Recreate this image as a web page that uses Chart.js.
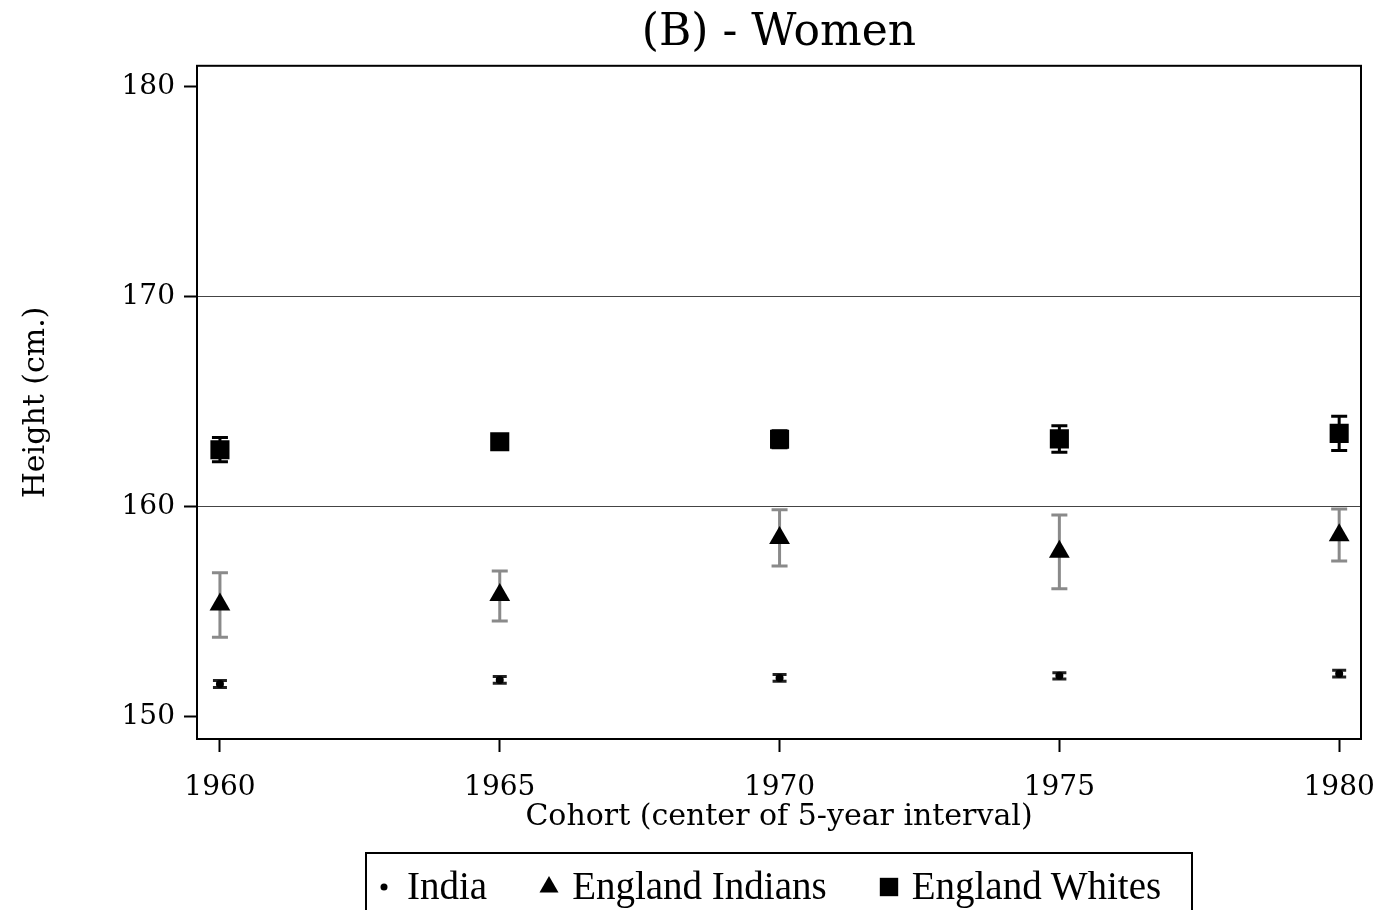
<!DOCTYPE html>
<html>
<head>
<meta charset="utf-8">
<script src="https://cdn.jsdelivr.net/npm/chart.js@4.4.1/dist/chart.umd.min.js"></script>
<style>
html, body { margin: 0; padding: 0; background: #fff; overflow: hidden; }
#wrap { position: relative; width: 1383px; height: 910px; }
#legend {
    position: absolute; left: 365px; top: 852px; width: 828px; height: 90px;
    border: 2px solid #000; box-sizing: border-box;
    font-family: "Liberation Serif", serif; font-size: 39px; color: #000;
    display: flex; align-items: flex-start; padding: 12px 0 0 4px; gap: 49px;
}
.item { display: flex; align-items: center; line-height: 40px; }
.item canvas { margin-right: 10px; }
</style>
</head>
<body>
<div id="wrap">
    <canvas id="chartHeight" width="1383" height="910"></canvas>
    <div id="legend"></div>
</div>
<script>
// cohort centers and tick labels
const cohorts = [1960, 1965, 1970, 1975, 1980];
const xTicks = [1960, 1965, 1970, 1975, 1980];
const yTicks = [150, 160, 170, 180];
const gridValues = [160, 170];

// India
const indiaMean = [151.57, 151.76, 151.86, 151.96, 152.06];
const indiaLow = [151.40, 151.60, 151.70, 151.81, 151.90];
const indiaHigh = [151.74, 151.92, 152.02, 152.11, 152.22];

// England Indians
const engIndMean = [155.35, 155.80, 158.52, 157.86, 158.65];
const engIndLow = [153.80, 154.57, 157.19, 156.10, 157.43];
const engIndHigh = [156.86, 156.95, 159.86, 159.62, 159.90];

// England Whites
const engWhMean = [162.72, 163.10, 163.22, 163.24, 163.50];
const engWhLow = [162.15, 162.80, 162.82, 162.60, 162.68];
const engWhHigh = [163.30, 163.40, 163.62, 163.86, 164.32];

const toPoints = (ys) => cohorts.map((c, i) => ({ x: c, y: ys[i] }));

const serif = "'DejaVu Serif', serif";

// error bars drawn under the markers
const errorBars = {
    id: "errorBars",
    beforeDatasetsDraw(chart) {
        const { ctx, scales: { x, y } } = chart;
        chart.data.datasets.forEach((ds, i) => {
            if (!chart.isDatasetVisible(i)) return;
            ctx.save();
            ctx.strokeStyle = ds.errColor;
            ctx.lineWidth = ds.errWidth;
            ds.data.forEach((pt, j) => {
                const px = x.getPixelForValue(pt.x);
                const top = y.getPixelForValue(ds.errHigh[j]);
                const bot = y.getPixelForValue(ds.errLow[j]);
                const c = ds.capHalf;
                ctx.beginPath();
                ctx.moveTo(px, top);
                ctx.lineTo(px, bot);
                ctx.moveTo(px - c, top);
                ctx.lineTo(px + c, top);
                ctx.moveTo(px - c, bot);
                ctx.lineTo(px + c, bot);
                ctx.stroke();
            });
            ctx.restore();
        });
    },
};

// full box round the plot
const plotBox = {
    id: "plotBox",
    afterDraw(chart) {
        const { ctx, chartArea: a } = chart;
        ctx.save();
        ctx.strokeStyle = "#000";
        ctx.lineWidth = 2;
        ctx.strokeRect(a.left, a.top, a.right - a.left, a.bottom - a.top);
        ctx.restore();
    },
};

const dataHeight = {
    datasets: [
        {
            label: "India",
            data: toPoints(indiaMean),
            errLow: indiaLow,
            errHigh: indiaHigh,
            errColor: "#222",
            errWidth: 3,
            capHalf: 7,
            pointStyle: "circle",
            pointRadius: 4,
            backgroundColor: "#000",
            borderColor: "#000",
            borderWidth: 0,
            legendRadius: 3.5,
        },
        {
            label: "England Indians",
            data: toPoints(engIndMean),
            errLow: engIndLow,
            errHigh: engIndHigh,
            errColor: "#8a8a8a",
            errWidth: 3,
            capHalf: 8,
            pointStyle: "triangle",
            pointRadius: 12,
            backgroundColor: "#000",
            borderColor: "#000",
            borderWidth: 0,
            legendRadius: 11,
        },
        {
            label: "England Whites",
            data: toPoints(engWhMean),
            errLow: engWhLow,
            errHigh: engWhHigh,
            errColor: "#000",
            errWidth: 3,
            capHalf: 8,
            pointStyle: "rect",
            pointRadius: 13.5,
            backgroundColor: "#000",
            borderColor: "#000",
            borderWidth: 0,
            legendRadius: 13,
        },
    ],
};

const configHeight = {
    type: "scatter",
    data: dataHeight,
    options: {
        responsive: false,
        animation: false,
        layout: { padding: { top: 1, left: 18, right: 22, bottom: 75 } },
        plugins: {
            legend: { display: false },
            tooltip: { enabled: false },
            title: {
                display: true,
                text: "(B) - Women",
                fullSize: false,
                color: "#000",
                font: { family: serif, size: 44, weight: "normal" },
                padding: { top: 6, bottom: 6 },
            },
        },
        scales: {
            x: {
                type: "linear",
                min: 1959.59,
                max: 1980.39,
                afterBuildTicks: (s) => { s.ticks = xTicks.map((v) => ({ value: v })); },
                afterFit: (s) => { s.height = 96; s.paddingLeft = 0; s.paddingRight = 0; },
                border: { display: false },
                grid: {
                    color: "transparent",
                    tickColor: "#000",
                    tickLength: 13,
                    tickWidth: 2,
                },
                ticks: {
                    color: "#000",
                    padding: 19,
                    maxRotation: 0,
                    font: { family: serif, size: 28 },
                    callback: (v) => String(v),
                },
                title: {
                    display: true,
                    text: "Cohort (center of 5-year interval)",
                    color: "#000",
                    font: { family: serif, size: 30 },
                    padding: { top: 0, bottom: 0 },
                },
            },
            y: {
                type: "linear",
                min: 148.95,
                max: 181,
                afterBuildTicks: (s) => { s.ticks = yTicks.map((v) => ({ value: v })); },
                afterFit: (s) => { s.width = 179; },
                border: { display: false },
                grid: {
                    color: (c) => (gridValues.includes(c.tick && c.tick.value) ? "#444" : "transparent"),
                    lineWidth: 1,
                    tickColor: "#000",
                    tickLength: 13,
                    tickWidth: 2,
                },
                ticks: {
                    color: "#000",
                    padding: 9,
                    font: { family: serif, size: 28 },
                    callback: (v) => String(v),
                },
                title: {
                    display: true,
                    text: "Height (cm.)",
                    color: "#000",
                    font: { family: serif, size: 30 },
                    padding: { top: 0, bottom: 0 },
                },
            },
        },
    },
    plugins: [errorBars, plotBox],
};

var chartHeight = new Chart(document.getElementById("chartHeight"), configHeight);

// legend in a box below the plot, built from the datasets
const legendEl = document.getElementById("legend");
dataHeight.datasets.forEach((ds) => {
    const item = document.createElement("div");
    item.className = "item";
    const mk = document.createElement("canvas");
    mk.width = 26;
    mk.height = 26;
    const mctx = mk.getContext("2d");
    mctx.fillStyle = "#000";
    mctx.strokeStyle = "#000";
    Chart.helpers.drawPoint(mctx, { pointStyle: ds.pointStyle, radius: ds.legendRadius, rotation: 0, borderWidth: 0 }, 13, 14);
    const txt = document.createElement("span");
    txt.textContent = ds.label;
    item.appendChild(mk);
    item.appendChild(txt);
    legendEl.appendChild(item);
});
</script>
</body>
</html>
